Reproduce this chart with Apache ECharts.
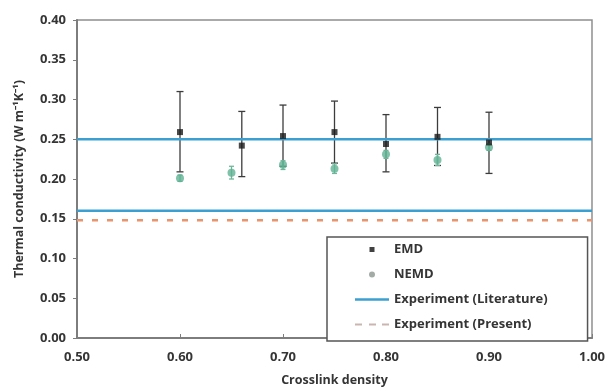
<!DOCTYPE html>
<html><head><meta charset="utf-8">
<script src="https://cdn.jsdelivr.net/npm/echarts@6/dist/echarts.min.js"></script>
<style>html,body{margin:0;padding:0;background:#fff}#c{width:608px;height:392px}</style>
</head><body><div id="c"></div>
<script>
// ---- data ----
const emdX    = [0.60, 0.66, 0.70, 0.75, 0.80, 0.85, 0.90];
const emdY    = [0.259, 0.242, 0.254, 0.259, 0.244, 0.253, 0.246];
const emdLow  = [0.209, 0.203, 0.216, 0.220, 0.209, 0.217, 0.207];
const emdHigh = [0.310, 0.285, 0.293, 0.298, 0.281, 0.290, 0.284];

const nemdX    = [0.60, 0.65, 0.70, 0.75, 0.80, 0.85, 0.90];
const nemdY    = [0.201, 0.208, 0.218, 0.213, 0.231, 0.224, 0.240];
const nemdLow  = [0.197, 0.200, 0.212, 0.207, 0.226, 0.217, 0.236];
const nemdHigh = [0.205, 0.216, 0.223, 0.219, 0.236, 0.231, 0.244];

const litUpper = 0.25;
const litLower = 0.16;
const present  = 0.148;
const xRange   = [0.5, 1.0];

const xTicks = ['0.50','0.60','0.70','0.80','0.90','1.00'];
const yTicks = ['0.00','0.05','0.10','0.15','0.20','0.25','0.30','0.35','0.40'];

// ---- chart ----
const FONT = 'Open Sans';
const TXT = '#353535';
function errRender(color, width, cap) {
  return function (params, api) {
    const x = api.value(0), lo = api.value(1), hi = api.value(2);
    const a = api.coord([x, hi]), b = api.coord([x, lo]);
    const st = { stroke: color, lineWidth: width };
    return { type: 'group', children: [
      { type: 'line', shape: { x1: a[0], y1: a[1], x2: b[0], y2: b[1] }, style: st },
      { type: 'line', shape: { x1: a[0]-cap, y1: a[1], x2: a[0]+cap, y2: a[1] }, style: st },
      { type: 'line', shape: { x1: b[0]-cap, y1: b[1], x2: b[0]+cap, y2: b[1] }, style: st }
    ]};
  };
}
const blue = '#3b9fd1';
const salmon = '#e8946f';
const chart = echarts.init(document.getElementById('c'), null, { renderer: 'canvas' });
chart.setOption({
  animation: false,
  textStyle: { fontFamily: FONT },
  grid: { left: 77, right: 15, top: 20, bottom: 52, show: true, borderColor: '#8f8f8f', borderWidth: 1.5 },
  xAxis: {
    type: 'value', min: xRange[0], max: xRange[1], interval: 0.1,
    name: 'Crosslink density', nameLocation: 'middle', nameGap: 36,
    nameTextStyle: { fontFamily: FONT, fontWeight: 'bold', fontSize: 12.5, color: TXT },
    axisLine: { lineStyle: { color: '#7d7d7d', width: 2 } },
    axisTick: { inside: true, length: 4, lineStyle: { color: '#7d7d7d' } },
    axisLabel: { margin: 13, fontFamily: FONT, fontWeight: 'bold', fontSize: 13, color: TXT,
      formatter: v => xTicks[Math.round((v - 0.5) * 10)] },
    splitLine: { show: false }
  },
  yAxis: {
    type: 'value', min: 0, max: 0.4, interval: 0.05,
    name: 'Thermal conductivity (W m\u207B\u00B9K\u207B\u00B9)', nameLocation: 'middle', nameGap: 51,
    nameTextStyle: { fontFamily: FONT, fontWeight: 'bold', fontSize: 12.5, color: TXT },
    axisLine: { show: true, lineStyle: { color: '#7d7d7d', width: 2 } },
    axisTick: { show: true, length: 4, lineStyle: { color: '#7d7d7d' } },
    axisLabel: { margin: 11, fontFamily: FONT, fontWeight: 'bold', fontSize: 13, color: TXT,
      formatter: v => yTicks[Math.round(v * 20)] },
    splitLine: { show: false }
  },
  legend: {
    orient: 'vertical', left: 327, top: 237,
    padding: [6, 40, 10, 28], itemGap: 12, itemWidth: 34, itemHeight: 12,
    borderColor: '#555', borderWidth: 1.5, backgroundColor: '#fff',
    selectedMode: false,
    textStyle: { fontFamily: FONT, fontWeight: 'bold', fontSize: 13, color: TXT },
    data: [
      { name: 'EMD', icon: 'path://M0,0M12,12M3.5,3.5h5v5h-5z', itemStyle: { color: '#111' } },
      { name: 'NEMD', icon: 'path://M0,0M12,12M6,3a3,3 0 1,0 0.01,0z', itemStyle: { color: '#8c9691' } },
      { name: 'Experiment (Literature)', icon: 'path://M0,0h34v2.5h-34z', itemStyle: { color: blue } },
      { name: 'Experiment (Present)', icon: 'path://M0,0h7v2h-7zM14,0h7v2h-7zM27,0h7v2h-7z', itemStyle: { color: '#c9b6b0' } }
    ]
  },
  series: [
    { name: 'EMD err', type: 'custom', renderItem: errRender('#3c3c3c', 1.3, 3.5), z: 2,
      encode: { x: 0, y: [1, 2] }, data: emdX.map((x, i) => [x, emdLow[i], emdHigh[i]]) },
    { name: 'NEMD err', type: 'custom', renderItem: errRender('#6fb79b', 1.3, 2.5), z: 2,
      encode: { x: 0, y: [1, 2] }, data: nemdX.map((x, i) => [x, nemdLow[i], nemdHigh[i]]) },
    { name: 'Experiment (Literature)', type: 'line', symbol: 'none', z: 3, color: blue,
      lineStyle: { color: blue, width: 2.5 }, data: xRange.map(x => [x, litUpper]) },
    { name: 'Experiment (Literature)', type: 'line', symbol: 'none', z: 3, color: blue,
      lineStyle: { color: blue, width: 2.5 }, data: xRange.map(x => [x, litLower]) },
    { name: 'Experiment (Present)', type: 'line', symbol: 'none', z: 3, color: salmon,
      lineStyle: { color: salmon, width: 2.5, type: [6, 9] }, data: xRange.map(x => [x, present]) },
    { name: 'NEMD', type: 'scatter', symbol: 'circle', symbolSize: 8, z: 4,
      itemStyle: { color: '#5fb194' }, data: nemdX.map((x, i) => [x, nemdY[i]]) },
    { name: 'EMD', type: 'scatter', symbol: 'rect', symbolSize: 6, z: 5,
      itemStyle: { color: '#1a1a1a' }, data: emdX.map((x, i) => [x, emdY[i]]) }
  ]
});
</script></body></html>
